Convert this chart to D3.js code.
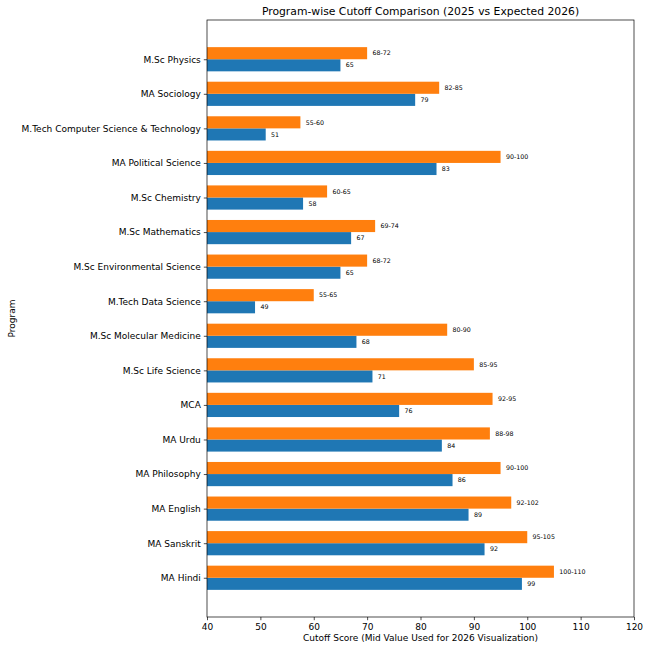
<!DOCTYPE html>
<html>
<head>
<meta charset="utf-8">
<script src="https://cdn.jsdelivr.net/npm/d3@7"></script>
<style>
  body { margin: 0; background: #fff; }
  text { font-family: 'DejaVu Sans', sans-serif; fill: #000; }
</style>
</head>
<body>
<div id="container"></div>
<script>
'use strict';

const w = 650;
const h = 650;
const padLeft = 207;
const padRight = 634;
const padTop = 20;
const padBottom = 617;

// Bottom to top, as plotted.
const programs = [
    'MA Hindi', 'MA Sanskrit', 'MA English', 'MA Philosophy', 'MA Urdu', 'MCA',
    'M.Sc Life Science', 'M.Sc Molecular Medicine', 'M.Tech Data Science',
    'M.Sc Environmental Science', 'M.Sc Mathematics', 'M.Sc Chemistry',
    'MA Political Science', 'M.Tech Computer Science & Technology', 'MA Sociology',
    'M.Sc Physics'
];
const cutoff2025 = [99, 92, 89, 86, 84, 76, 71, 68, 49, 65, 67, 58, 83, 51, 79, 65];
const low2026 = [100, 95, 92, 90, 88, 92, 85, 80, 55, 68, 69, 60, 90, 55, 82, 68];
const high2026 = [110, 105, 102, 100, 98, 95, 95, 90, 65, 72, 74, 65, 100, 60, 85, 72];
const xTicks = [40, 50, 60, 70, 80, 90, 100, 110, 120];

const barH = 0.35;
const mid2026 = low2026.map((d, i) => (d + high2026[i]) / 2);

const svg = d3.select('#container')
    .append('svg')
    .attr('width', w)
    .attr('height', h);

const xScale = d3.scaleLinear().domain([40, 120]).range([padLeft, padRight]);
// matplotlib default 5% margin around bar extents.
const lo = -barH;
const hi = programs.length - 1 + barH;
const m = (hi - lo) * 0.05;
const yScale = d3.scaleLinear().domain([lo - m, hi + m]).range([padBottom, padTop]);

svg.append('clipPath')
    .attr('id', 'clip')
    .append('rect')
    .attr('x', padLeft)
    .attr('y', padTop)
    .attr('width', padRight - padLeft)
    .attr('height', padBottom - padTop);

const plot = svg.append('g').attr('clip-path', 'url(#clip)');
const barPx = yScale(0) - yScale(barH);

// 2025 bars (below) and 2026 mid bars (above).
plot.selectAll('rect.y2025')
    .data(cutoff2025)
    .enter()
    .append('rect')
    .attr('class', 'y2025')
    .attr('x', xScale(0))
    .attr('y', (d, i) => yScale(i))
    .attr('width', d => xScale(d) - xScale(0))
    .attr('height', barPx)
    .attr('fill', '#1f77b4');

plot.selectAll('rect.y2026')
    .data(mid2026)
    .enter()
    .append('rect')
    .attr('class', 'y2026')
    .attr('x', xScale(0))
    .attr('y', (d, i) => yScale(i + barH))
    .attr('width', d => xScale(d) - xScale(0))
    .attr('height', barPx)
    .attr('fill', '#ff7f0e');

// Value labels.
svg.selectAll('text.l2025')
    .data(cutoff2025)
    .enter()
    .append('text')
    .attr('class', 'l2025')
    .attr('x', d => xScale(d + 1))
    .attr('y', (d, i) => yScale(i - barH / 2))
    .attr('dy', '0.35em')
    .style('font-size', '6.3px')
    .text(d => d);

svg.selectAll('text.l2026')
    .data(mid2026)
    .enter()
    .append('text')
    .attr('class', 'l2026')
    .attr('x', d => xScale(d + 1))
    .attr('y', (d, i) => yScale(i + barH / 2))
    .attr('dy', '0.35em')
    .style('font-size', '6.3px')
    .text((d, i) => low2026[i] + '-' + high2026[i]);

// Axes.
const xAxis = d3.axisBottom(xScale).tickValues(xTicks).tickSize(3.2).tickPadding(3);
const gx = svg.append('g')
    .attr('transform', 'translate(0,' + padBottom + ')')
    .call(xAxis);

const yAxis = d3.axisLeft(yScale)
    .tickValues(d3.range(programs.length))
    .tickFormat(i => programs[i])
    .tickSize(3.2)
    .tickPadding(3);
const gy = svg.append('g')
    .attr('transform', 'translate(' + padLeft + ',0)')
    .call(yAxis);

[gx, gy].forEach(g => {
    g.select('.domain').remove();
    g.selectAll('line').attr('stroke', '#000').attr('stroke-width', 0.7);
    g.selectAll('text').style('font-size', '9px').attr('font-family', 'DejaVu Sans');
});

svg.append('rect')
    .attr('x', padLeft)
    .attr('y', padTop)
    .attr('width', padRight - padLeft)
    .attr('height', padBottom - padTop)
    .attr('fill', 'none')
    .attr('stroke', '#000')
    .attr('stroke-width', 0.7);

// Titles.
svg.append('text')
    .attr('text-anchor', 'middle')
    .attr('x', (padLeft + padRight) / 2)
    .attr('y', padTop - 5)
    .style('font-size', '10.8px')
    .text('Program-wise Cutoff Comparison (2025 vs Expected 2026)');

svg.append('text')
    .attr('text-anchor', 'middle')
    .attr('x', (padLeft + padRight) / 2)
    .attr('y', 641)
    .style('font-size', '9px')
    .text('Cutoff Score (Mid Value Used for 2026 Visualization)');

svg.append('text')
    .attr('text-anchor', 'middle')
    .attr('transform', 'translate(15,' + (padTop + padBottom) / 2 + ') rotate(-90)')
    .style('font-size', '9px')
    .text('Program');
</script>
</body>
</html>
